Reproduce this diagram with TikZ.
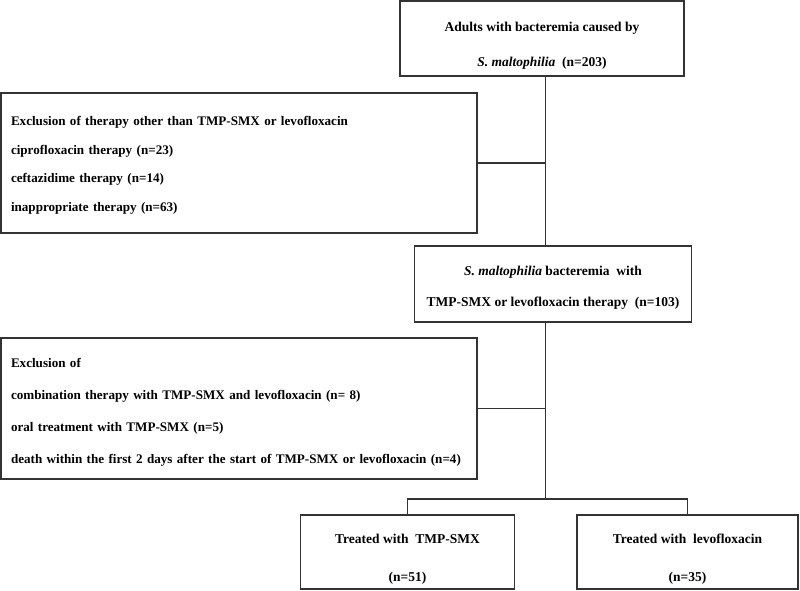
\documentclass[tikz,border=0pt]{standalone}
\usepackage{fontspec}
\setmainfont{Liberation Serif}

% invisible strut that pushes the first line down a little
\newcommand{\gapstrut}[1]{\rule{0pt}{#1pt}}

\begin{document}
\begin{tikzpicture}[x=1pt, y=-1pt,
    box/.style={draw=black!80, line width=1.2pt, inner xsep=10pt, inner ysep=0pt},
    hdr/.style={box, align=center, font={\fontsize{13.5}{#1}\selectfont\bfseries}},
    excl/.style={box, text width=456pt, align=left,
                 font={\fontsize{13.1}{#1}\selectfont\bfseries}},
    ln/.style={draw=black!80, line width=1.2pt}
  ]
  \useasboundingbox (0,0) rectangle (800,590);

  \node[hdr=35, minimum width=284pt, minimum height=75pt] (all) at (542,38.5)
    {\gapstrut{24}Adults with bacteremia caused by\\\textit{S. maltophilia}\ \ (n=203)};

  \node[excl=28.7, minimum height=140pt] (excl1) at (239,163)
    {\gapstrut{14}Exclusion of therapy other than TMP-SMX or levofloxacin\\
     ciprofloxacin therapy (n=23)\\
     ceftazidime therapy (n=14)\\
     inappropriate therapy (n=63)};

  \node[hdr=31, minimum width=277pt, minimum height=76pt] (mid) at (553,284)
    {\gapstrut{17}\textit{S. maltophilia} bacteremia\ \ with\\TMP-SMX or levofloxacin therapy\ \ (n=103)};

  \node[excl=32, minimum height=141pt] (excl2) at (239,408.5)
    {\gapstrut{16}Exclusion of\\
     combination therapy with TMP-SMX and levofloxacin (n=\ 8)\\
     oral treatment with TMP-SMX (n=5)\\
     death within the first 2 days after the start of TMP-SMX or levofloxacin (n=4)};

  \node[hdr=38, minimum width=214pt, minimum height=74pt] (tmp) at (407.5,552)
    {\gapstrut{23}Treated with\ \ TMP-SMX\\(n=51)};
  \node[hdr=38, minimum width=221pt, minimum height=74pt] (levo) at (687.5,552)
    {\gapstrut{23}Treated with\ \ levofloxacin\\(n=35)};

  % main line and where it splits
  \coordinate (spine) at (545.7,0);
  \coordinate (split) at (545.7,499);

  \draw[ln] (all.south -| spine) -- (mid.north -| spine);
  \draw[ln] (excl1.east) -- (excl1.east -| spine);
  \draw[ln] (mid.south -| split) -- (split);
  \draw[ln] (excl2.east) -- (excl2.east -| split);
  \draw[ln] (tmp.north) |- (split) -| (levo.north);
\end{tikzpicture}
\end{document}
